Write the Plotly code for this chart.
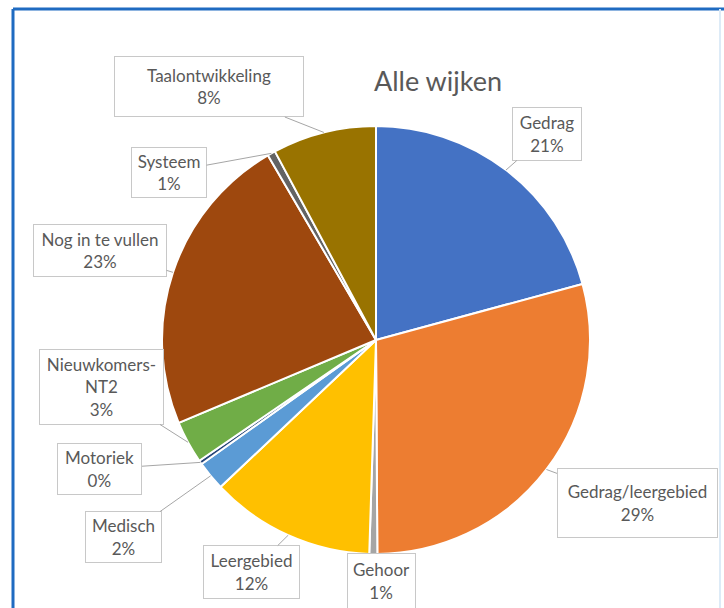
import math
import plotly.graph_objects as go

W, H = 724, 608

# data (percent shares)
categories = ["Gedrag", "Gedrag/leergebied", "Gehoor", "Leergebied", "Medisch",
              "Motoriek", "Nieuwkomers-<br>NT2", "Nog in te vullen", "Systeem",
              "Taalontwikkeling"]
values = [20.7, 29.0, 0.6, 12.4, 2.2, 0.3, 3.2, 22.8, 0.6, 7.8]
colors = ["#4472C4", "#ED7D31", "#A5A5A5", "#FFC000", "#5B9BD5",
          "#264478", "#70AD47", "#9E480E", "#636363", "#997300"]

# label box centre (px) and size (px)
box_pos = [(547, 134), (637, 503), (381, 581), (251, 572), (124, 537),
           (100, 469), (101, 387), (100, 250), (169, 172), (209, 87)]
box_size = [(70, 54), (161, 70), (69, 56), (97, 54), (77, 52),
            (85, 52), (125, 76), (134, 53), (76, 51), (190, 61)]

# pie placement in pixels
cx, cy, R = 376, 340, 214

fig = go.Figure(go.Pie(
    labels=categories, values=values, sort=False, direction="clockwise",
    marker=dict(colors=colors, line=dict(color="white", width=2)),
    textinfo="none", hoverinfo="label+percent", showlegend=False,
    domain=dict(x=[(cx - R) / W, (cx + R) / W],
                y=[(H - cy - R) / H, (H - cy + R) / H]),
))

total = sum(values)
cum = 0
for name, v, (bx, by), (bw, bh) in zip(categories, values, box_pos, box_size):
    mid = (cum + v / 2) / total * 2 * math.pi
    cum += v
    px_ = cx + R * math.sin(mid)
    py_ = cy - R * math.cos(mid)
    pct = round(v / total * 100)
    fig.add_annotation(
        x=px_ / W, y=1 - py_ / H, xref="paper", yref="paper",
        ax=bx - px_, ay=by - py_,
        text=f"{name}<br>{pct}%", showarrow=True, arrowhead=0,
        arrowwidth=1, arrowcolor="#A6A6A6", standoff=0,
        width=bw - 2, height=bh - 2, borderpad=0,
        bordercolor="#C8C8C8", borderwidth=1, bgcolor="white",
        font=dict(family="Lato", size=17, color="#595959"),
    )

fig.add_annotation(x=438 / W, y=1 - 62 / H, xref="paper", yref="paper",
                   text="Alle wijken", showarrow=False,
                   font=dict(family="Lato", size=27, color="#595959"))

# chart frame
fig.add_shape(type="line", xref="paper", yref="paper",
              x0=13 / W, x1=13 / W, y0=0, y1=1 - 9 / H,
              line=dict(color="#1F6BC1", width=3))
fig.add_shape(type="line", xref="paper", yref="paper",
              x0=13 / W, x1=1, y0=1 - 9 / H, y1=1 - 9 / H,
              line=dict(color="#1F6BC1", width=3))
fig.add_shape(type="line", xref="paper", yref="paper",
              x0=720 / W, x1=720 / W, y0=0, y1=1 - 9 / H,
              line=dict(color="#DDEBF7", width=2))

fig.update_layout(width=W, height=H, margin=dict(l=0, r=0, t=0, b=0),
                  paper_bgcolor="white", plot_bgcolor="white")

fig.write_html("out.html", config={"displayModeBar": False},
               post_script="document.body.style.margin='0';")
